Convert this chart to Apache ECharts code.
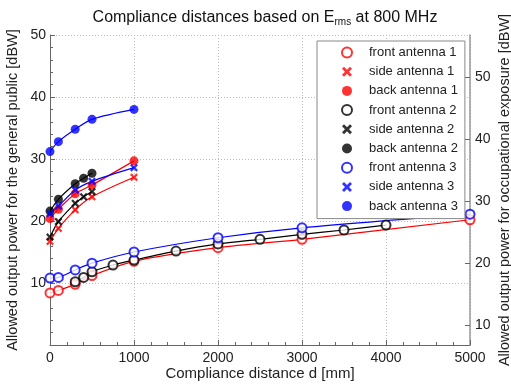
<!DOCTYPE html>
<html>
<head>
<meta charset="utf-8">
<script src="https://cdn.jsdelivr.net/npm/echarts@6/dist/echarts.min.js"></script>
<style>
  html, body { margin: 0; padding: 0; background: #fff; }
  #chart { width: 511px; height: 384px; }
</style>
</head>
<body>
<div id="chart"></div>
<script>
// distances [mm]
var dFront13 = [0, 100, 300, 500, 1000, 2000, 3000, 5000];
var dFront2 = [300, 400, 500, 750, 1000, 1500, 2000, 2500, 3000, 3500, 4000];
var dSideBack13 = [0, 100, 300, 500, 1000];
var dSideBack2 = [0, 100, 300, 400, 500];

// allowed output power [dBW], general public
var front1 = [8.4, 8.8, 9.8, 11.2, 13.5, 15.7, 17.05, 20.2];
var side1 = [16.7, 18.8, 21.8, 23.9, 27.05];
var back1 = [20.4, 21.9, 24.4, 25.8, 29.7];
var front2 = [10.2, 10.9, 11.8, 12.9, 13.7, 15.15, 16.3, 17.05, 17.85, 18.55, 19.35];
var side2 = [17.4, 19.9, 22.85, 23.9, 24.75];
var back2 = [21.6, 23.5, 26.0, 26.9, 27.7];
var front3 = [10.8, 10.9, 12.1, 13.2, 15.0, 17.3, 18.9, 21.1];
var side3 = [21.2, 22.4, 25.0, 26.4, 28.6];
var back3 = [31.2, 32.8, 34.8, 36.4, 38.0];

var xTicks = [0, 1000, 2000, 3000, 4000, 5000];
var leftTicks = [10, 20, 30, 40, 50];
var rightTicks = [10, 20, 30, 40, 50];
var occOffset = 6.78; // occupational limit vs general public, dB

var RED = '#ff0000', BLACK = '#000000', BLUE = '#0000ff';
var crossPath = 'path://M0,2L2,0L5,3L8,0L10,2L7,5L10,8L8,10L5,7L2,10L0,8L3,5Z';

function zip(xs, ys) {
  return xs.map(function (x, i) { return [x, ys[i]]; });
}

var defs = [
  { name: 'front antenna 1', d: dFront13, v: front1, color: RED, kind: 'open' },
  { name: 'side antenna 1', d: dSideBack13, v: side1, color: RED, kind: 'cross' },
  { name: 'back antenna 1', d: dSideBack13, v: back1, color: RED, kind: 'dot' },
  { name: 'front antenna 2', d: dFront2, v: front2, color: BLACK, kind: 'open' },
  { name: 'side antenna 2', d: dSideBack2, v: side2, color: BLACK, kind: 'cross' },
  { name: 'back antenna 2', d: dSideBack2, v: back2, color: BLACK, kind: 'dot' },
  { name: 'front antenna 3', d: dFront13, v: front3, color: BLUE, kind: 'open' },
  { name: 'side antenna 3', d: dSideBack13, v: side3, color: BLUE, kind: 'cross' },
  { name: 'back antenna 3', d: dSideBack13, v: back3, color: BLUE, kind: 'dot' }
];

var series = [];
defs.forEach(function (s) {
  series.push({
    name: s.name + ' fit',
    type: 'line',
    data: zip(s.d, s.v),
    smooth: 0.3,
    showSymbol: false,
    silent: true,
    lineStyle: { color: s.color, width: 1.2 },
    z: 2
  });
});
defs.forEach(function (s) {
  var sym, size, style;
  if (s.kind === 'open') {
    sym = 'circle'; size = 9;
    style = { color: '#ffffff', borderColor: s.color, borderWidth: 2 };
  } else if (s.kind === 'cross') {
    sym = crossPath; size = 8;
    style = { color: s.color };
  } else {
    sym = 'circle'; size = 9;
    style = { color: s.color };
  }
  series.push({
    name: s.name,
    type: 'scatter',
    data: zip(s.d, s.v),
    symbol: sym,
    symbolSize: size,
    itemStyle: style,
    z: 3
  });
});

var chart = echarts.init(document.getElementById('chart'));
chart.setOption({
  backgroundColor: '#ffffff',
  animation: false,
  textStyle: { fontFamily: 'Liberation Sans' },
  title: {
    text: 'Compliance distances based on E{sub|rms} at 800 MHz',
    left: 260,
    top: 3,
    textAlign: 'center',
    textStyle: {
      fontFamily: 'Liberation Sans', fontSize: 16, fontWeight: 'normal', color: '#111',
      rich: { sub: { fontFamily: 'Liberation Sans', fontSize: 10, padding: [9, 0, 0, 0], color: '#111' } }
    }
  },
  legend: {
    data: defs.map(function (s) { return s.name; }),
    orient: 'vertical',
    left: 317,
    top: 41,
    padding: [5, 7, 6, 24],
    itemWidth: 10,
    itemHeight: 10,
    itemGap: 6.2,
    backgroundColor: '#ffffff',
    borderColor: '#888888',
    borderWidth: 1,
    borderRadius: 0,
    selectedMode: false,
    textStyle: { fontFamily: 'Liberation Sans', fontSize: 13, color: '#222', padding: [0, 0, 0, 12] }
  },
  grid: { left: 50, right: 41, top: 35, bottom: 39, containLabel: false, outerBoundsMode: 'none' },
  xAxis: {
    type: 'value',
    min: 0, max: 5000, interval: 1000,
    name: 'Compliance distance d [mm]',
    nameLocation: 'middle',
    nameGap: 21,
    nameMoveOverlap: false,
    nameTextStyle: { fontFamily: 'Liberation Sans', fontSize: 15, color: '#222' },
    axisLine: { lineStyle: { color: '#666', width: 1 } },
    axisTick: { inside: true, length: 5, lineStyle: { color: '#666' } },
    minorTick: { show: true, splitNumber: 5, length: 3, lineStyle: { color: '#666' } },
    axisLabel: { fontSize: 14, color: '#222', margin: 6, customValues: xTicks,
      formatter: function (v) { return String(v); } },
    splitLine: { show: true, lineStyle: { color: '#bbb', type: [1, 2], width: 1 } }
  },
  yAxis: [
    {
      type: 'value',
      min: 0, max: 50, interval: 10,
      name: 'Allowed output power for the general public [dBW]',
      nameLocation: 'middle',
      nameGap: 30,
      nameRotate: 90,
      nameMoveOverlap: false,
      nameTextStyle: { fontFamily: 'Liberation Sans', fontSize: 14.5, color: '#222' },
      axisLine: { show: true, lineStyle: { color: '#666', width: 1 } },
      axisTick: { show: true, inside: true, length: 5, lineStyle: { color: '#666' } },
      minorTick: { show: true, splitNumber: 5, length: 3, lineStyle: { color: '#666' } },
      axisLabel: { fontSize: 14, color: '#222', margin: 4, customValues: leftTicks },
      splitLine: { show: true, lineStyle: { color: '#bbb', type: [1, 2], width: 1 } }
    },
    {
      type: 'value',
      position: 'right',
      min: occOffset, max: 50 + occOffset,
      name: 'Allowed output power for occupational exposure [dBW]',
      nameLocation: 'middle',
      nameGap: 27,
      nameRotate: 90,
      nameMoveOverlap: false,
      nameTextStyle: { fontFamily: 'Liberation Sans', fontSize: 14.5, color: '#222' },
      axisLine: { show: true, lineStyle: { color: '#999', width: 1.5 } },
      axisTick: { show: true, inside: true, length: 5, lineStyle: { color: '#666' }, customValues: rightTicks },
      axisLabel: { fontSize: 14, color: '#222', margin: 5, customValues: rightTicks },
      splitLine: { show: false }
    }
  ],
  series: series
});
</script>
</body>
</html>
